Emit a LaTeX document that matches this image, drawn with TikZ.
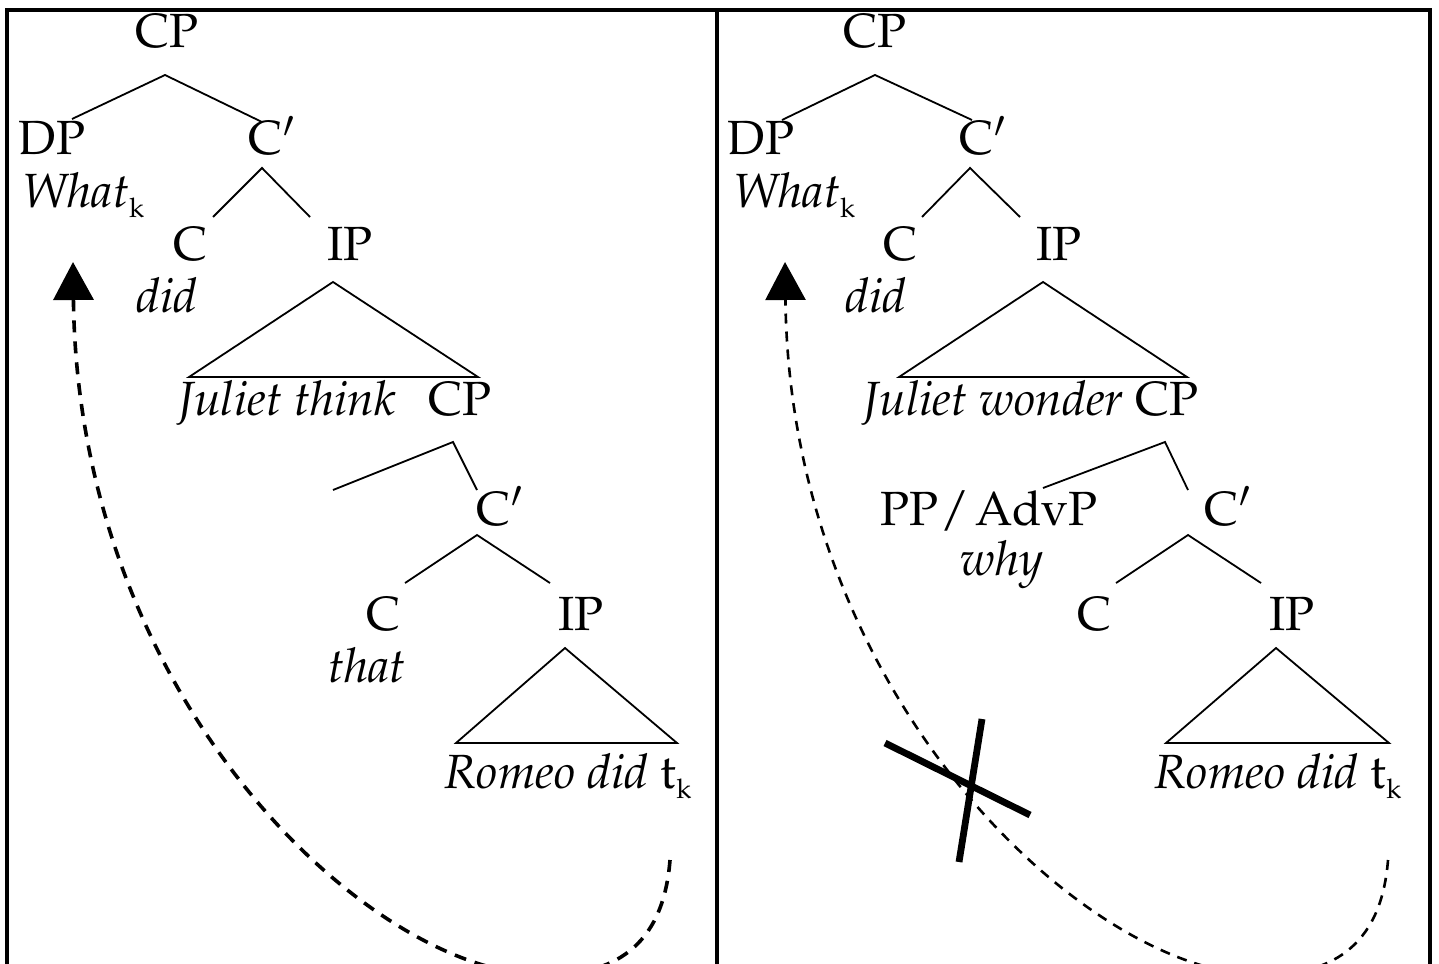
\documentclass[tikz,border=0pt]{standalone}
\usepackage[T1]{fontenc}
\usepackage{mathpazo}
\usetikzlibrary{arrows.meta}
\newcommand{\subk}{\raisebox{-5pt}{\fontsize{13.5}{13.5}\selectfont k}}
\begin{document}
\begin{tikzpicture}[x=0.5pt,y=-0.5pt,
  lbl/.style={inner sep=0pt, anchor=base, font=\fontsize{24}{28}\selectfont},
  branch/.style={line width=0.9pt, line join=miter},
  frame/.style={line width=1.6pt},
  movL/.style={line width=1.8pt, dash pattern=on 6pt off 4.5pt, -{Triangle[length=19pt,width=20pt]}},
  movR/.style={line width=1.3pt, dash pattern=on 5pt off 4pt, -{Triangle[length=19pt,width=20pt]}},
  cross/.style={line width=3.4pt}]
\useasboundingbox (0,0) rectangle (1439,963);
\clip (0,0) rectangle (1439,963);
% frame
\draw[frame] (7,970) -- (7,10) -- (1430,10) -- (1430,970);
\draw[frame] (717,10) -- (717,970);

% ---------------- left tree ----------------
\node[lbl] (lCP) at (167,48) {CP};
\node[lbl] (lDP) at (52,155) {DP};
\node[lbl] (lCbar) at (272,155) {C$'$};
\node[lbl, anchor=base west] (lWhat) at (22,207) {\textit{What}\subk};
\node[lbl] (lC) at (191,260) {C};
\node[lbl] (lIP) at (350,260) {IP};
\node[lbl] (ldid) at (167,312) {\textit{did}};
\node[lbl] (lJT) at (287,415) {\textit{Juliet think}};
\node[lbl] (lCP2) at (460,415) {CP};
\node[lbl] (lCbar2) at (500,525) {C$'$};
\node[lbl] (lC2) at (384,630) {C};
\node[lbl] (lIP2) at (581,630) {IP};
\node[lbl] (lthat) at (367,682) {\textit{that}};
\node[lbl] (lRomeo) at (568,788) {\textit{Romeo did} t\subk};

\coordinate (la1) at (165,75);  \coordinate (la1l) at (72,119);  \coordinate (la1r) at (262,122);
\coordinate (la2) at (262,168); \coordinate (la2l) at (213,217); \coordinate (la2r) at (310,217);
\coordinate (lt1) at (333,282); \coordinate (lt1l) at (189,377); \coordinate (lt1r) at (478,377);
\coordinate (la3) at (453,442); \coordinate (la3l) at (333,490); \coordinate (la3r) at (477,490);
\coordinate (la4) at (477,535); \coordinate (la4l) at (405,583); \coordinate (la4r) at (550,583);
\coordinate (lt2) at (565,648); \coordinate (lt2l) at (456,743); \coordinate (lt2r) at (677,743);
\draw[branch] (la1l) -- (la1) -- (la1r);
\draw[branch] (la2l) -- (la2) -- (la2r);
\draw[branch] (lt1) -- (lt1l) -- (lt1r) -- cycle;
\draw[branch] (la3l) -- (la3) -- (la3r);
\draw[branch] (la4l) -- (la4) -- (la4r);
\draw[branch] (lt2) -- (lt2l) -- (lt2r) -- cycle;

\coordinate (lstart) at (670,860);
\coordinate (lbottom) at (545,975);
\coordinate (ltip) at (73,262);
\draw[movL] (lstart) .. controls (663,950) and (610,975) .. (lbottom)
  .. controls (370,975) and (78,700) .. (ltip);

% ---------------- right tree ----------------
\node[lbl] (rCP) at (875,48) {CP};
\node[lbl] (rDP) at (761,155) {DP};
\node[lbl] (rCbar) at (983,155) {C$'$};
\node[lbl, anchor=base west] (rWhat) at (733,207) {\textit{What}\subk};
\node[lbl] (rC) at (901,260) {C};
\node[lbl] (rIP) at (1059,260) {IP};
\node[lbl] (rdid) at (876,312) {\textit{did}};
\node[lbl] (rJW) at (1031,415) {\textit{Juliet wonder} CP};
\node[lbl] (rPP) at (989,525) {PP\kern1pt/\kern3pt AdvP};
\node[lbl] (rCbar2) at (1228,525) {C$'$};
\node[lbl] (rwhy) at (1002,575) {\textit{why}};
\node[lbl] (rC2) at (1094,630) {C};
\node[lbl] (rIP2) at (1292,630) {IP};
\node[lbl] (rRomeo) at (1278,788) {\textit{Romeo did} t\subk};

\coordinate (ra1) at (875,75);   \coordinate (ra1l) at (782,120);  \coordinate (ra1r) at (972,120);
\coordinate (ra2) at (970,168);  \coordinate (ra2l) at (922,217);  \coordinate (ra2r) at (1020,217);
\coordinate (rt1) at (1043,282); \coordinate (rt1l) at (899,377);  \coordinate (rt1r) at (1187,377);
\coordinate (ra3) at (1165,442); \coordinate (ra3l) at (1043,488); \coordinate (ra3r) at (1188,490);
\coordinate (ra4) at (1188,535); \coordinate (ra4l) at (1116,583); \coordinate (ra4r) at (1261,583);
\coordinate (rt2) at (1276,648); \coordinate (rt2l) at (1166,743); \coordinate (rt2r) at (1389,743);
\draw[branch] (ra1l) -- (ra1) -- (ra1r);
\draw[branch] (ra2l) -- (ra2) -- (ra2r);
\draw[branch] (rt1) -- (rt1l) -- (rt1r) -- cycle;
\draw[branch] (ra3l) -- (ra3) -- (ra3r);
\draw[branch] (ra4l) -- (ra4) -- (ra4r);
\draw[branch] (rt2) -- (rt2l) -- (rt2r) -- cycle;

\coordinate (rstart) at (1388,860);
\coordinate (rbottom) at (1262,975);
\coordinate (rtip) at (785,262);
\draw[movR] (rstart) .. controls (1381,950) and (1327,975) .. (rbottom)
  .. controls (1090,975) and (790,700) .. (rtip);

% the cross
\coordinate (x1a) at (885,743); \coordinate (x1b) at (1030,815);
\coordinate (x2a) at (982,719); \coordinate (x2b) at (959,862);
\draw[cross] (x1a) -- (x1b);
\draw[cross] (x2a) -- (x2b);
\end{tikzpicture}
\end{document}
